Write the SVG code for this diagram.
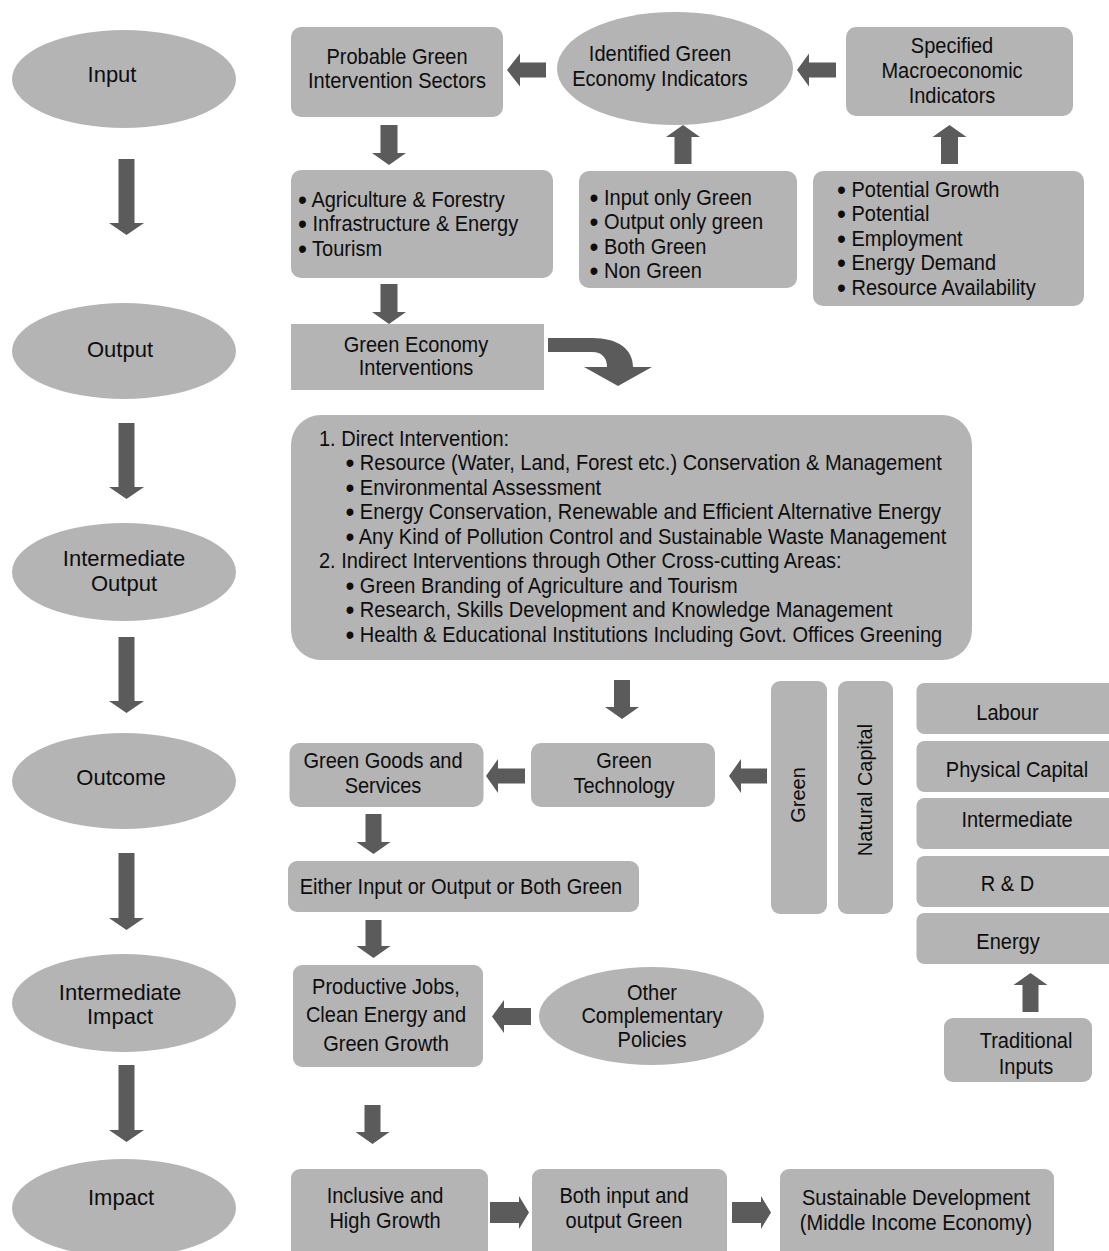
<svg xmlns="http://www.w3.org/2000/svg" width="1109" height="1251" viewBox="0 0 1109 1251">
<style>
.box{fill:#b4b4b4}
.arr{fill:#5b5b5b}
.c{font-family:"Liberation Sans",Arial,sans-serif;font-size:22px;fill:#0d0d0d}
.L{font-family:"Liberation Sans",Arial,sans-serif;font-size:22px;fill:#0d0d0d;text-anchor:middle}
.v{font-family:"Liberation Sans",Arial,sans-serif;font-size:20px;fill:#0d0d0d;text-anchor:middle}
.m{text-anchor:middle}
.b{font-size:28px}
</style>
<rect width="1109" height="1251" fill="#ffffff"/>

<!-- left stage column -->
<g id="stage-input"><ellipse class="box" cx="124" cy="79" rx="112" ry="49"/><text class="L" x="112" y="82">Input</text></g>
<g id="stage-output"><ellipse class="box" cx="124" cy="351" rx="112" ry="48"/><text class="L" x="120" y="357">Output</text></g>
<g id="stage-intermediate-output"><ellipse class="box" cx="124" cy="572" rx="112" ry="49"/><text class="L" x="124" y="566">Intermediate</text><text class="L" x="124" y="591">Output</text></g>
<g id="stage-outcome"><ellipse class="box" cx="124" cy="781" rx="112" ry="48"/><text class="L" x="121" y="785">Outcome</text></g>
<g id="stage-intermediate-impact"><ellipse class="box" cx="124" cy="1003" rx="112" ry="49"/><text class="L" x="120" y="1000">Intermediate</text><text class="L" x="120" y="1024">Impact</text></g>
<g id="stage-impact"><ellipse class="box" cx="124" cy="1208" rx="112" ry="49"/><text class="L" x="121" y="1205">Impact</text></g>

<!-- top row -->
<g id="probable"><rect class="box" x="291" y="27" width="212" height="90" rx="10"/>
<text class="c m" transform="translate(397,64) scale(.91,1)"><tspan x="0" y="0">Probable Green</tspan><tspan x="0" y="24.5">Intervention Sectors</tspan></text></g>

<g id="identified"><ellipse class="box" cx="675" cy="68.5" rx="118" ry="56.5"/>
<text class="c m" transform="translate(660,61) scale(.91,1)"><tspan x="0" y="0">Identified Green</tspan><tspan x="0" y="25">Economy Indicators</tspan></text></g>

<g id="specified"><rect class="box" x="846" y="27" width="227" height="89" rx="10"/>
<text class="c m" transform="translate(952,53) scale(.91,1)"><tspan x="0" y="0">Specified</tspan><tspan x="0" y="25">Macroeconomic</tspan><tspan x="0" y="50">Indicators</tspan></text></g>

<g id="sectors"><rect class="box" x="291" y="170" width="262" height="108" rx="10"/>
<text class="c" transform="translate(298,207) scale(.91,1)"><tspan x="0" y="0"><tspan class="b" dy="2">•</tspan><tspan dy="-2"> Agriculture &amp; Forestry</tspan></tspan><tspan x="0" y="24.5"><tspan class="b" dy="2">•</tspan><tspan dy="-2"> Infrastructure &amp; Energy</tspan></tspan><tspan x="0" y="49"><tspan class="b" dy="2">•</tspan><tspan dy="-2"> Tourism</tspan></tspan></text></g>

<g id="green-types"><rect class="box" x="579" y="171" width="218" height="117" rx="10"/>
<text class="c" transform="translate(589.5,205) scale(.91,1)"><tspan x="0" y="0"><tspan class="b" dy="2">•</tspan><tspan dy="-2"> Input only Green</tspan></tspan><tspan x="0" y="24.3"><tspan class="b" dy="2">•</tspan><tspan dy="-2"> Output only green</tspan></tspan><tspan x="0" y="48.6"><tspan class="b" dy="2">•</tspan><tspan dy="-2"> Both Green</tspan></tspan><tspan x="0" y="73"><tspan class="b" dy="2">•</tspan><tspan dy="-2"> Non Green</tspan></tspan></text></g>

<g id="macro-list"><rect class="box" x="813" y="171" width="271" height="135" rx="10"/>
<text class="c" transform="translate(837,197) scale(.91,1)"><tspan x="0" y="0"><tspan class="b" dy="2">•</tspan><tspan dy="-2"> Potential Growth</tspan></tspan><tspan x="0" y="24.5"><tspan class="b" dy="2">•</tspan><tspan dy="-2"> Potential</tspan></tspan><tspan x="0" y="49"><tspan class="b" dy="2">•</tspan><tspan dy="-2"> Employment</tspan></tspan><tspan x="0" y="73.5"><tspan class="b" dy="2">•</tspan><tspan dy="-2"> Energy Demand</tspan></tspan><tspan x="0" y="98"><tspan class="b" dy="2">•</tspan><tspan dy="-2"> Resource Availability</tspan></tspan></text></g>

<g id="interventions"><rect class="box" x="291" y="324" width="253" height="66"/>
<text class="c m" transform="translate(416,352) scale(.91,1)"><tspan x="0" y="0">Green Economy</tspan><tspan x="0" y="23.5">Interventions</tspan></text></g>

<g id="intervention-list"><rect class="box" x="291" y="415" width="681" height="245" rx="30"/>
<text class="c" transform="translate(319,446) scale(.91,1)">
<tspan x="0" y="0">1. Direct Intervention:</tspan>
<tspan x="29" y="24.5"><tspan class="b" dy="2">•</tspan><tspan dy="-2"> Resource (Water, Land, Forest etc.) Conservation &amp; Management</tspan></tspan>
<tspan x="29" y="49"><tspan class="b" dy="2">•</tspan><tspan dy="-2"> Environmental Assessment</tspan></tspan>
<tspan x="29" y="73.5"><tspan class="b" dy="2">•</tspan><tspan dy="-2"> Energy Conservation, Renewable and Efficient Alternative Energy</tspan></tspan>
<tspan x="29" y="98"><tspan class="b" dy="2">•</tspan><tspan dy="-2"> Any Kind of Pollution Control and Sustainable Waste Management</tspan></tspan>
<tspan x="0" y="122.5">2. Indirect Interventions through Other Cross-cutting Areas:</tspan>
<tspan x="29" y="147"><tspan class="b" dy="2">•</tspan><tspan dy="-2"> Green Branding of Agriculture and Tourism</tspan></tspan>
<tspan x="29" y="171.5"><tspan class="b" dy="2">•</tspan><tspan dy="-2"> Research, Skills Development and Knowledge Management</tspan></tspan>
<tspan x="29" y="196"><tspan class="b" dy="2">•</tspan><tspan dy="-2"> Health &amp; Educational Institutions Including Govt. Offices Greening</tspan></tspan>
</text></g>

<!-- outcome row -->
<g id="green-goods"><rect class="box" x="289.5" y="743" width="194" height="64" rx="10"/>
<text class="c m" transform="translate(383,768) scale(.91,1)"><tspan x="0" y="0">Green Goods and</tspan><tspan x="0" y="25">Services</tspan></text></g>

<g id="green-tech"><rect class="box" x="531" y="743" width="184" height="64" rx="10"/>
<text class="c m" transform="translate(624,768) scale(.91,1)"><tspan x="0" y="0">Green</tspan><tspan x="0" y="25">Technology</tspan></text></g>

<g id="col-green"><rect class="box" x="771" y="681" width="56" height="233" rx="9"/>
<text class="v" transform="translate(804.5,795) rotate(-90)">Green</text></g>

<g id="col-natural"><rect class="box" x="838" y="681" width="55" height="233" rx="9"/>
<text class="v" transform="translate(872,790) rotate(-90)">Natural Capital</text></g>

<g id="labour"><rect class="box" x="916.5" y="683" width="210" height="51" rx="8"/><text class="c m" transform="translate(1007.5,720) scale(.91,1)">Labour</text></g>
<g id="physical-capital"><rect class="box" x="916.5" y="741" width="210" height="51" rx="8"/><text class="c m" transform="translate(1017,777) scale(.91,1)">Physical Capital</text></g>
<g id="intermediate"><rect class="box" x="916.5" y="798" width="210" height="51" rx="8"/><text class="c m" transform="translate(1017,827) scale(.91,1)">Intermediate</text></g>
<g id="rnd"><rect class="box" x="916.5" y="856" width="210" height="51" rx="8"/><text class="c m" transform="translate(1007.5,891) scale(.91,1)">R &amp; D</text></g>
<g id="energy"><rect class="box" x="916.5" y="913" width="210" height="51" rx="8"/><text class="c m" transform="translate(1008,949) scale(.91,1)">Energy</text></g>

<g id="traditional"><rect class="box" x="944" y="1018" width="148" height="64" rx="9"/>
<text class="c m" transform="translate(1026,1048) scale(.91,1)"><tspan x="0" y="0">Traditional</tspan><tspan x="0" y="26">Inputs</tspan></text></g>

<g id="either"><rect class="box" x="288" y="861" width="351" height="51" rx="9"/>
<text class="c m" transform="translate(461,894) scale(.91,1)">Either Input or Output or Both Green</text></g>

<g id="productive"><rect class="box" x="293" y="965" width="190" height="102" rx="9"/>
<text class="c m" transform="translate(386,994) scale(.91,1)"><tspan x="0" y="0">Productive Jobs,</tspan><tspan x="0" y="28.5">Clean Energy and</tspan><tspan x="0" y="57">Green Growth</tspan></text></g>

<g id="other-policies"><ellipse class="box" cx="651.5" cy="1016" rx="112.5" ry="49"/>
<text class="c m" transform="translate(652,1000) scale(.91,1)"><tspan x="0" y="0">Other</tspan><tspan x="0" y="23.5">Complementary</tspan><tspan x="0" y="47">Policies</tspan></text></g>

<!-- impact row -->
<g id="inclusive"><rect class="box" x="291" y="1169" width="197" height="92" rx="9"/>
<text class="c m" transform="translate(385,1203) scale(.91,1)"><tspan x="0" y="0">Inclusive and</tspan><tspan x="0" y="25">High Growth</tspan></text></g>

<g id="both-green"><rect class="box" x="532" y="1169" width="195" height="92" rx="9"/>
<text class="c m" transform="translate(624,1203) scale(.91,1)"><tspan x="0" y="0">Both input and</tspan><tspan x="0" y="25">output Green</tspan></text></g>

<g id="sustainable"><rect class="box" x="780" y="1169" width="274" height="92" rx="9"/>
<text class="c m" transform="translate(916,1205) scale(.91,1)"><tspan x="0" y="0">Sustainable Development</tspan><tspan x="0" y="25">(Middle Income Economy)</tspan></text></g>

<!-- connectors -->
<g id="connectors">
<polygon class="arr" points="118.5,159 134.5,159 134.5,223 144,223 126.5,235 109,223 118.5,223"/>
<polygon class="arr" points="118.5,423 134.5,423 134.5,487 144,487 126.5,499 109,487 118.5,487"/>
<polygon class="arr" points="118.5,637 134.5,637 134.5,701 144,701 126.5,713 109,701 118.5,701"/>
<polygon class="arr" points="118.5,853 134.5,853 134.5,918 144,918 126.5,930 109,918 118.5,918"/>
<polygon class="arr" points="118.5,1065 134.5,1065 134.5,1130 144,1130 126.5,1142 109,1130 118.5,1130"/>
<polygon class="arr" points="380.5,125 397.5,125 397.5,153 406,153 389,165 372,153 380.5,153"/>
<polygon class="arr" points="380.5,284 397.5,284 397.5,312 406,312 389,324 372,312 380.5,312"/>
<polygon class="arr" points="614,680 630,680 630,707 639,707 622,719 605,707 614,707"/>
<polygon class="arr" points="365.5,814 381.5,814 381.5,842 390.5,842 373.5,854 356.5,842 365.5,842"/>
<polygon class="arr" points="365.5,920 381.5,920 381.5,946 390.5,946 373.5,958 356.5,946 365.5,946"/>
<polygon class="arr" points="364.5,1105 380.5,1105 380.5,1132 389.5,1132 372.5,1144 355.5,1132 364.5,1132"/>
<polygon class="arr" points="683,125 700,137 691.5,137 691.5,164 674.5,164 674.5,137 666,137"/>
<polygon class="arr" points="949.5,125 966.5,137 958,137 958,164 941,164 941,137 932.5,137"/>
<polygon class="arr" points="1030.5,973 1047.5,985 1038.5,985 1038.5,1012 1022.5,1012 1022.5,985 1013.5,985"/>
<polygon class="arr" points="507,70 520,53.5 520,62.5 546,62.5 546,77.5 520,77.5 520,86.5"/>
<polygon class="arr" points="797,70 809,53.5 809,62.5 836,62.5 836,77.5 809,77.5 809,86.5"/>
<polygon class="arr" points="486,776 498,759 498,768.5 525,768.5 525,783.5 498,783.5 498,793"/>
<polygon class="arr" points="729,776 741,759 741,768.5 767,768.5 767,783.5 741,783.5 741,793"/>
<polygon class="arr" points="492,1016.5 504,1000 504,1008 531,1008 531,1025 504,1025 504,1033"/>
<polygon class="arr" points="490,1202 519,1202 519,1196 529,1212.5 519,1229 519,1223 490,1223"/>
<polygon class="arr" points="732,1202 761,1202 761,1196 771,1212.5 761,1229 761,1223 732,1223"/>
<path class="arr" d="M548,338 L592,338 C618,338 633,349 633,367 L652,367 L618,386 L584,367 L607,367 C607,358 602,352 592,352 L548,352 Z"/>
</g>
</svg>
